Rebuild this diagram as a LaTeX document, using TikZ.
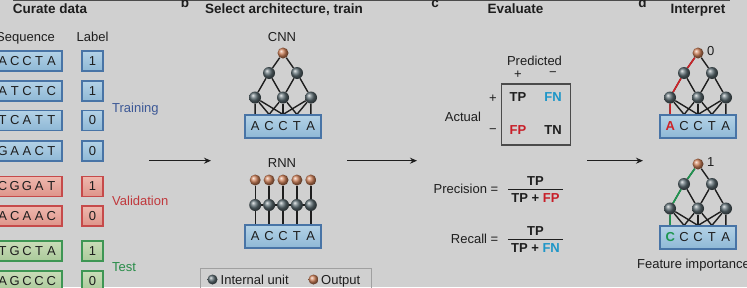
\documentclass[tikz,border=0pt]{standalone}
\usepackage{fontspec}
\setmainfont{Liberation Sans}
\usetikzlibrary{arrows.meta}

\pgfdeclarelayer{bglayer}
\pgfdeclarelayer{edgelayer}
\pgfsetlayers{bglayer,edgelayer,main}

% palette
\definecolor{bgc}{RGB}{208,208,208}
\definecolor{txt}{RGB}{30,30,30}
\definecolor{rulec}{RGB}{75,75,75}
\definecolor{bluetop}{RGB}{180,210,230}
\definecolor{bluebot}{RGB}{142,184,214}
\definecolor{blueedge}{RGB}{72,116,166}
\definecolor{redtop}{RGB}{238,184,174}
\definecolor{redbot}{RGB}{222,148,138}
\definecolor{rededge}{RGB}{198,74,74}
\definecolor{greentop}{RGB}{202,220,184}
\definecolor{greenbot}{RGB}{170,202,154}
\definecolor{greenedge}{RGB}{62,150,84}
\definecolor{txtblue}{RGB}{60,88,150}
\definecolor{txtred}{RGB}{192,56,60}
\definecolor{txtgreen}{RGB}{40,140,72}
\definecolor{fnblue}{RGB}{30,150,200}
\definecolor{fpred}{RGB}{200,30,40}
\definecolor{hlred}{RGB}{205,35,40}
\definecolor{hlgreen}{RGB}{30,150,80}
\definecolor{hidball}{RGB}{92,108,114}
\definecolor{outball}{RGB}{206,128,88}
\definecolor{legedge}{RGB}{160,160,160}

% evenly spaced nucleotide letters
\newcommand{\seqletters}[5]{\makebox[12.2pt]{#1}\makebox[12.2pt]{#2}\makebox[12.2pt]{#3}\makebox[12.2pt]{#4}\makebox[12.2pt]{#5}}
\newcommand{\netletters}[5]{\makebox[13.9pt]{#1}\makebox[13.9pt]{#2}\makebox[13.9pt]{#3}\makebox[13.9pt]{#4}\makebox[13.9pt]{#5}}

% small convolutional network: prefix, centre x, output y, box text
\newcommand{\convnet}[4]{%
  \node[outunit] (#1o) at (#2,#3) {};
  \node[hidunit] (#1a1) at (#2-14,#3+20) {};
  \node[hidunit] (#1a2) at (#2+14,#3+20) {};
  \node[hidunit] (#1b1) at (#2-28,#3+44.5) {};
  \node[hidunit] (#1b2) at (#2,#3+44.5) {};
  \node[hidunit] (#1b3) at (#2+28,#3+44.5) {};
  \node[netbox] (#1box) at (#2,#3+73.5) {#4};
  \begin{pgfonlayer}{edgelayer}
    \draw[netline] (#1o) -- (#1a1) (#1o) -- (#1a2)
      (#1a1) -- (#1b1) (#1a1) -- (#1b2) (#1a2) -- (#1b2) (#1a2) -- (#1b3);
    \foreach \u/\k in {1/-27.8,1/-13.9,1/0,2/-13.9,2/0,2/13.9,3/0,3/13.9,3/27.8}
      \draw[netline] (#1b\u) -- ([xshift=\k pt]#1box.north);
  \end{pgfonlayer}
}

\begin{document}
\begin{tikzpicture}[x=1pt,y=-1pt,
  paneltitle/.style={font=\fontsize{13.5}{16}\selectfont\bfseries, text=txt, inner sep=0},
  lbl/.style={font=\fontsize{13}{15}\selectfont, text=txt, inner sep=0},
  boldlbl/.style={font=\fontsize{13}{15}\selectfont\bfseries, text=txt, inner sep=0},
  seqbase/.style={rectangle, line width=1.1pt, inner sep=0,
    font=\fontsize{13}{15}\selectfont, text=txt},
  seqblue/.style={seqbase, draw=blueedge, top color=bluetop, bottom color=bluebot},
  seqred/.style={seqbase, draw=rededge, top color=redtop, bottom color=redbot},
  seqgreen/.style={seqbase, draw=greenedge, top color=greentop, bottom color=greenbot},
  seqcell/.style={minimum width=70pt, minimum height=20pt},
  labcell/.style={minimum width=21pt, minimum height=20pt},
  netbox/.style={seqblue, minimum width=76pt, minimum height=23pt},
  hidunit/.style={circle, inner sep=0, minimum size=12pt, ball color=hidball},
  outunit/.style={circle, inner sep=0, minimum size=11pt, ball color=outball},
  netline/.style={line width=1.4pt, draw=txt},
  hlline/.style={line width=1.6pt},
  flow/.style={line width=1.2pt, draw=txt, -{Stealth[length=7pt,width=6pt]}},
  fracbar/.style={line width=1.3pt, draw=txt}]

\useasboundingbox (0,0) rectangle (747,287);
\begin{pgfonlayer}{bglayer}
  \fill[bgc] (0,0) rectangle (747,287);
  \draw[rulec, line width=1.6pt] (13,0.6) -- (730,0.6);
\end{pgfonlayer}
\clip (0,0) rectangle (747,287);

% panel titles and letters
\node[paneltitle, anchor=base] (ta) at (50,13) {Curate data};
\node[paneltitle, anchor=base] (lb) at (185,7) {b};
\node[paneltitle, anchor=base] (tb) at (284,13) {Select architecture, train};
\node[paneltitle, anchor=base] (lc) at (435,7) {c};
\node[paneltitle, anchor=base] (tc) at (515.5,13) {Evaluate};
\node[paneltitle, anchor=base] (ld) at (642.5,7) {d};
\node[paneltitle, anchor=base] (td) at (698,13) {Interpret};

% ---- curate data
\node[lbl, anchor=base east] (hseq) at (55,41.5) {Sequence};
\node[lbl, anchor=base] (hlab) at (92.5,41.5) {Label};

\foreach \yy/\sq/\lab/\kind [count=\n] in
  {61/{ACCTA}/1/seqblue, 91/{ATCTC}/1/seqblue, 120.5/{TCATT}/0/seqblue,
   151/{GAACT}/0/seqblue, 186.5/{CGGAT}/1/seqred, 216/{ACAAC}/0/seqred,
   251/{TGCTA}/1/seqgreen, 281/{AGCCC}/0/seqgreen}{
  \node[\kind, seqcell] (s\n) at (27,\yy) {\expandafter\seqletters\sq};
  \node[\kind, labcell] (l\n) at (92.5,\yy) {\lab};
}
\node[lbl, anchor=base west, text=txtblue] (gtrain) at (112,112) {Training};
\node[lbl, anchor=base west, text=txtred] (gval) at (112,205) {Validation};
\node[lbl, anchor=base west, text=txtgreen] (gtest) at (112,271) {Test};

% ---- architectures
\node[lbl, anchor=base] (cnnlbl) at (282,41.5) {CNN};
\convnet{c}{283}{53}{\netletters ACCTA}

\node[lbl, anchor=base] (rnnlbl) at (282,167) {RNN};
\node[netbox] (rbox) at (283,236.5) {\netletters ACCTA};
\foreach \i/\k in {1/-27.8,2/-13.9,3/0,4/13.9,5/27.8}{
  \node[outunit] (ro\i) at (283+\k,180) {};
  \node[hidunit] (rh\i) at (283+\k,205) {};
  \begin{pgfonlayer}{edgelayer}
    \draw[netline] (ro\i) -- (rh\i) -- ([xshift=\k pt]rbox.north);
  \end{pgfonlayer}
}
\begin{pgfonlayer}{edgelayer}
  \draw[netline] (rh1) -- (rh2) -- (rh3) -- (rh4) -- (rh5);
\end{pgfonlayer}

% legend
\node[draw=legedge, line width=1pt, anchor=north west, minimum width=171pt,
  minimum height=30pt, inner sep=0] (legend) at (200,267.5) {};
\node[hidunit, minimum size=10pt] (leghid) at (212.5,279.5) {};
\node[lbl, anchor=base west] (leghidt) at (220.5,284.5) {Internal unit};
\node[outunit, minimum size=10pt] (legout) at (313.5,279.5) {};
\node[lbl, anchor=base west] (legoutt) at (321,284.5) {Output};

% ---- evaluate
\node[lbl, anchor=base] (pred) at (534.5,65) {Predicted};
\node[lbl] (pplus) at (518,74.5) {+};
\node[lbl] (pminus) at (553,74.5) {−};
\node[draw=rulec, line width=1.2pt, minimum width=69pt, minimum height=61pt,
  inner sep=0] (cm) at (536,114.5) {};
\node[boldlbl] (tp) at (518,97.5) {TP};
\node[boldlbl, text=fnblue] (fn) at (553,97.5) {FN};
\node[boldlbl, text=fpred] (fp) at (518,130.5) {FP};
\node[boldlbl] (tn) at (553,130.5) {TN};
\node[lbl] (aplus) at (493,98.5) {+};
\node[lbl] (aminus) at (493,131.5) {−};
\node[lbl, anchor=base] (actual) at (463,121.5) {Actual};

\node[lbl, anchor=base east] (prec) at (498.5,193) {Precision =};
\node[boldlbl, anchor=south, inner ysep=4pt] (pnum) at (535.5,189.3) {TP};
\node[boldlbl, anchor=north, inner ysep=4pt, inner xsep=3pt] (pden) at (535.5,189.3)
  {TP + \textcolor{fpred}{FP}};
\draw[fracbar] (pden.north west) -- (pden.north east);

\node[lbl, anchor=base east] (rec) at (498.5,243) {Recall =};
\node[boldlbl, anchor=south, inner ysep=4pt] (rnum) at (535.5,239.5) {TP};
\node[boldlbl, anchor=north, inner ysep=4pt, inner xsep=3pt] (rden) at (535.5,239.5)
  {TP + \textcolor{fnblue}{FN}};
\draw[fracbar] (rden.north west) -- (rden.north east);

% ---- interpret
\convnet{t}{698}{53}{\netletters{\textcolor{hlred}{\bfseries A}}CCTA}
\begin{pgfonlayer}{edgelayer}
  \draw[hlline, hlred] (to) -- (ta1) -- (tb1) -- ([xshift=-27.8pt]tbox.north);
\end{pgfonlayer}
\node[lbl, anchor=west] (tout) at (707,51.5) {0};

\convnet{u}{698}{164}{\netletters{\textcolor{hlgreen}{\bfseries C}}CCTA}
\begin{pgfonlayer}{edgelayer}
  \draw[hlline, hlgreen] (uo) -- (ua1) -- (ub1) -- ([xshift=-27.8pt]ubox.north);
\end{pgfonlayer}
\node[lbl, anchor=west] (uout) at (707,162.5) {1};
\node[lbl, anchor=base west] (feat) at (637,268) {Feature importance};

% ---- flow between panels
\coordinate (f1s) at (149,160.7);
\coordinate (f1e) at (211,160.7);
\coordinate (f2s) at (347,160.7);
\coordinate (f2e) at (417,160.7);
\coordinate (f3s) at (587,160.7);
\coordinate (f3e) at (643,160.7);
\draw[flow] (f1s) -- (f1e);
\draw[flow] (f2s) -- (f2e);
\draw[flow] (f3s) -- (f3e);
\end{tikzpicture}
\end{document}
